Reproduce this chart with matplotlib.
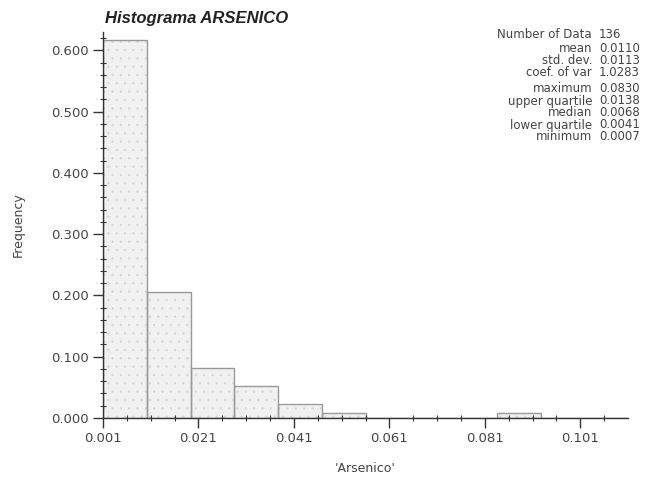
import matplotlib.pyplot as plt
import numpy as np

# histograma de arsenico: contagens por classe (136 amostras)
contagens = [84, 28, 11, 7, 3, 1, 0, 0, 0, 1, 0, 0]
n_dados = 136
x_min, x_max = 0.001, 0.111

estat_nomes = ['Number of Data', 'mean', 'std. dev.', 'coef. of var',
               'maximum', 'upper quartile', 'median', 'lower quartile', 'minimum']
estat_valores = ['136', '0.0110', '0.0113', '1.0283',
                 '0.0830', '0.0138', '0.0068', '0.0041', '0.0007']

freq = np.array(contagens) / n_dados
bordas = np.linspace(x_min, x_max, len(contagens) + 1)
largura = bordas[1] - bordas[0]

cinza = '#444444'
plt.rcParams['font.family'] = ['DejaVu Sans']
plt.rcParams['hatch.linewidth'] = 0.5

W, H = 669, 482
fig = plt.figure(figsize=(W / 100, H / 100), dpi=100)
ax = fig.add_axes([103 / W, 64 / H, 525 / W, 386 / H])

# preenchimento pontilhado e depois o contorno das barras
ax.bar(bordas[:-1], freq, width=largura, align='edge', color='#f1f1f1',
       edgecolor='#d6d6d6', hatch='..', linewidth=0)
ax.bar(bordas[:-1], freq, width=largura, align='edge', color='none',
       edgecolor='#9a9a9a', linewidth=1.0)

ax.set_xlim(x_min, x_max)
ax.set_ylim(0, 0.63)
ax.set_xticks(np.arange(0.001, 0.102, 0.02))
ax.set_xticks(np.arange(0.001, 0.111, 0.005), minor=True)
ax.set_yticks(np.arange(0, 0.61, 0.1))
ax.set_yticks(np.arange(0, 0.63, 0.02), minor=True)
ax.xaxis.set_major_formatter(plt.FormatStrFormatter('%.3f'))
ax.yaxis.set_major_formatter(plt.FormatStrFormatter('%.3f'))

for lado in ['top', 'right']:
    ax.spines[lado].set_visible(False)
for lado in ['left', 'bottom']:
    ax.spines[lado].set_color('#333333')
    ax.spines[lado].set_linewidth(1.0)

ax.tick_params(which='major', direction='out', length=7, width=1,
               color='#333333', labelcolor=cinza, labelsize=9.5, pad=3)
ax.tick_params(which='minor', direction='inout', length=5, width=0.8,
               color='#333333')

ax.set_xlabel("'Arsenico'", fontsize=9, color=cinza, labelpad=12)
ax.set_ylabel('Frequency', fontsize=9, color=cinza, labelpad=19)

fig.text(105 / W, 1 - 19 / H, 'Histograma ARSENICO', fontsize=12,
         fontweight='bold', fontstyle='italic', color='#222222',
         family='Liberation Sans', va='center', ha='left')

# bloco de estatisticas
linhas_y = [35, 49, 61, 73, 89, 101, 113, 125, 137]
for nome, valor, yp in zip(estat_nomes, estat_valores, linhas_y):
    fig.text(592 / W, 1 - yp / H, nome, fontsize=8.5, color=cinza,
             ha='right', va='center')
    fig.text(599 / W, 1 - yp / H, valor, fontsize=8.5, color=cinza,
             ha='left', va='center')

fig.savefig('out.png', dpi=100)
